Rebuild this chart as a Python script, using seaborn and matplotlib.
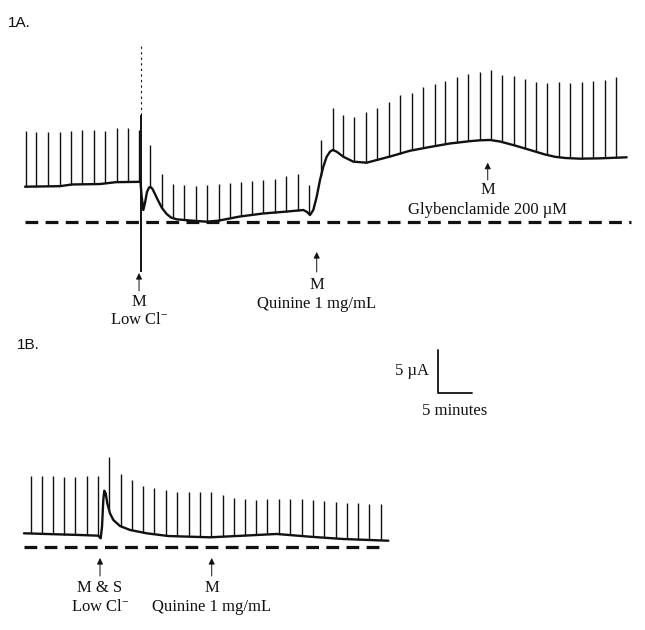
import numpy as np
import pandas as pd
import matplotlib
matplotlib.use("Agg")
import matplotlib.pyplot as plt
import matplotlib.transforms as mtransforms
import seaborn as sns

# ---------------- data (time in minutes, current in µA above the zero line) ----------------
# Panel 1A baseline current
a_base_t = [0.0, 5.24, 7.04, 11.23, 13.62, 17.29, 17.44, 17.71, 17.96, 18.26, 18.56, 18.79,
            19.09, 19.46, 19.96, 20.51, 21.21, 21.86, 22.71, 24.70, 27.20, 28.94, 32.19,
            35.63, 39.22, 41.66, 42.22, 42.66, 43.16, 43.67, 44.16, 44.66, 45.16, 45.66,
            46.06, 46.66, 47.65, 49.15, 51.15, 52.65, 54.64, 57.63, 60.63, 63.62, 66.62,
            68.11, 69.61, 71.11, 73.35, 75.60, 77.84, 79.34, 80.84, 83.08, 86.08, 90.07]
a_base_i = [4.10, 4.16, 4.36, 4.41, 4.63, 4.67, 3.12, 1.37, 2.19, 3.48, 4.00, 4.06,
            3.83, 3.24, 2.42, 1.60, 0.90, 0.49, 0.28, 0.14, 0.00, 0.12, 0.61,
            0.96, 1.19, 1.37, 1.14, 0.78, 1.37, 2.93, 4.88, 6.44, 7.61, 8.20,
            8.40, 8.20, 7.61, 7.03, 6.91, 7.22, 7.63, 8.31, 8.75, 9.16, 9.43,
            9.53, 9.57, 9.39, 8.92, 8.40, 7.87, 7.60, 7.46, 7.38, 7.42, 7.54]
# Panel 1A voltage-pulse current spikes (time, peak current)
a_spike_t = [0.10, 1.69, 3.49, 5.19, 6.89, 8.58, 10.28, 12.02, 13.73, 15.42, 17.02,
             18.71, 20.51, 22.16, 23.85, 25.60, 27.29, 29.04, 30.69, 32.34, 34.03, 35.67,
             37.43, 39.12, 40.82, 42.56, 44.31, 46.06, 47.60, 49.30, 51.05, 52.74, 54.49,
             56.18, 57.93, 59.63, 61.42, 62.92, 64.63, 66.36, 68.07, 69.76, 71.45, 73.16,
             74.85, 76.54, 78.19, 79.90, 81.63, 83.34, 85.07, 86.78, 88.47]
a_spike_top = [10.62, 10.54, 10.54, 10.47, 10.62, 10.74, 10.74, 10.62, 10.94, 10.94, 10.74,
               8.98, 5.58, 4.41, 4.30, 4.22, 4.30, 4.41, 4.57, 4.65, 4.73, 4.85,
               5.04, 5.35, 5.60, 4.30, 9.57, 13.35, 12.49, 12.30, 12.88, 13.35, 14.05,
               14.84, 15.11, 15.81, 16.12, 16.51, 16.91, 17.30, 17.49, 17.73, 17.18, 17.10,
               16.67, 16.39, 16.28, 16.39, 16.28, 16.39, 16.51, 16.59, 16.91]
# solution-change artefact in 1A
a_art_t = 17.37
a_art_top = 20.9
a_art_solid_top = 12.5
a_art_bottom = -5.9
a_zero_end = 90.7
a_event_t = [17.07, 43.67, 69.27]
a_event_line1 = ["M", "M", "M"]
a_event_line2 = ["Low Cl$^{-}$", "Quinine 1 mg/mL", "Glybenclamide 200 µM"]

# Panel 1B baseline current
b_base_t = [0.0, 8.38, 11.12, 11.48, 11.68, 11.87, 12.02, 12.23, 12.47, 12.87, 13.37, 14.37,
            15.87, 18.37, 21.60, 27.84, 32.83, 37.83, 42.81, 47.80, 54.54]
b_base_i = [1.57, 1.37, 1.29, 0.98, 2.34, 5.47, 6.56, 6.25, 5.08, 3.91, 3.13, 2.42,
            1.96, 1.57, 1.25, 1.10, 1.29, 1.49, 1.17, 0.90, 0.70]
b_spike_t = [1.00, 2.65, 4.30, 5.99, 7.68, 9.39, 11.08, 12.72, 14.48, 16.17, 17.81, 19.51,
             21.21, 22.90, 24.66, 26.35, 28.04, 29.75, 31.44, 33.08, 34.73, 36.42, 38.13,
             39.82, 41.57, 43.26, 44.96, 46.66, 48.31, 50.00, 51.69, 53.40]
b_spike_top = [8.31, 8.28, 8.28, 8.20, 8.20, 8.28, 8.28, 10.54, 8.48, 7.78, 7.14, 6.84,
               6.64, 6.44, 6.37, 6.44, 6.37, 6.05, 5.74, 5.59, 5.47, 5.55, 5.55,
               5.55, 5.55, 5.43, 5.35, 5.23, 5.15, 5.08, 5.04, 5.04]
b_zero_end = 53.7
b_event_t = [11.38, 28.10]
b_event_line1 = ["M & S", "M"]
b_event_line2 = ["Low Cl$^{-}$", "Quinine 1 mg/mL"]

scale_minutes = 5
scale_uA = 5
scale_t0, scale_i0 = 62.02, 18.03

# ---------------- layout ----------------
W, H = 645, 630
PX_MIN, PX_UA = 6.68, 8.54
A_X0, A_Y0 = 25, 221.7
B_X0, B_Y0 = 24, 546.7
INK = "#111111"

sns.set_theme(style="white")
plt.rcParams["font.family"] = ["Liberation Serif", "DejaVu Serif"]
plt.rcParams["mathtext.fontset"] = "custom"
plt.rcParams["mathtext.rm"] = "Liberation Serif"
plt.rcParams["mathtext.it"] = "Liberation Serif"
plt.rcParams["mathtext.bf"] = "Liberation Serif"

fig = plt.figure(figsize=(W / 100, H / 100), dpi=100)
fig.patch.set_facecolor("white")


def make_axes(x0, y0):
    ax = fig.add_axes([0, 0, 1, 1])
    ax.set_xlim(-x0 / PX_MIN, (W - x0) / PX_MIN)
    ax.set_ylim((y0 - H) / PX_UA, y0 / PX_UA)
    ax.axis("off")
    ax.patch.set_alpha(0)
    return ax


def fy(ypx):
    return 1 - ypx / H


def draw_trace(ax, bt, bi, st, stop, zero_end):
    df = pd.DataFrame({"t": bt, "i": bi})
    sns.lineplot(data=df, x="t", y="i", ax=ax, color=INK, lw=1.7,
                 sort=False, estimator=None, legend=False)
    base_at = np.interp(st, bt, bi)
    ax.vlines(st, base_at, stop, color=INK, lw=1.0)
    ax.hlines(0, 0, zero_end, color=INK, lw=2.3, linestyles=(0, (4.0, 2.3)))
    ax.set_xlabel("")
    ax.set_ylabel("")


def draw_events(ax, ts, l1, l2, tip, tail, y1, y2):
    tr = mtransforms.blended_transform_factory(ax.transData, fig.transFigure)
    for t, a, b in zip(ts, l1, l2):
        ax.annotate("", xy=(t, fy(tip)), xytext=(t, fy(tail)), xycoords=tr, textcoords=tr,
                    arrowprops=dict(arrowstyle="-|>", color=INK, lw=0.7,
                                    mutation_scale=9, shrinkA=0, shrinkB=0))
        fig.text(t, fy(y1), a, transform=tr, ha="center", va="baseline", fontsize=12, color=INK)
        fig.text(t, fy(y2), b, transform=tr, ha="center", va="baseline", fontsize=12, color=INK)


ax_a = make_axes(A_X0, A_Y0)
ax_b = make_axes(B_X0, B_Y0)

draw_trace(ax_a, a_base_t, a_base_i, a_spike_t, a_spike_top, a_zero_end)
ax_a.vlines(a_art_t, a_art_bottom, a_art_solid_top, color=INK, lw=1.4)
ax_a.vlines(a_art_t, a_art_solid_top, a_art_top, color=INK, lw=0.8, linestyles=(0, (2, 3)))

draw_trace(ax_b, b_base_t, b_base_i, b_spike_t, b_spike_top, b_zero_end)

# event markers
tips = [273, 252, 162.7]
tails = [291, 272, 180]
m_y = [306, 289.3, 194]
l_y = [324, 308.3, 214]
for k in range(3):
    draw_events(ax_a, [a_event_t[k]], [a_event_line1[k]], [a_event_line2[k]],
                tips[k], tails[k], m_y[k], l_y[k])
draw_events(ax_b, b_event_t, b_event_line1, b_event_line2, 558, 576, 591.7, 611)

# scale bar
ax_b.plot([scale_t0, scale_t0, scale_t0 + scale_minutes],
          [scale_i0 + scale_uA, scale_i0, scale_i0], color=INK, lw=1.3)
ax_b.text(scale_t0 - 1.4, scale_i0 + scale_uA / 2, f"{scale_uA} µA", ha="right",
          va="center", fontsize=12, color=INK)
ax_b.text(scale_t0 + scale_minutes / 2, scale_i0 - 1.2, f"{scale_minutes} minutes",
          ha="center", va="top", fontsize=12, color=INK)

# panel letters
fig.text(8 / W, fy(26.7), "1A.", fontsize=11, family=["Liberation Sans", "DejaVu Sans"],
         ha="left", va="baseline", color=INK)
fig.text(17 / W, fy(349), "1B.", fontsize=11, family=["Liberation Sans", "DejaVu Sans"],
         ha="left", va="baseline", color=INK)

fig.savefig("out.png", dpi=100, facecolor="white")
